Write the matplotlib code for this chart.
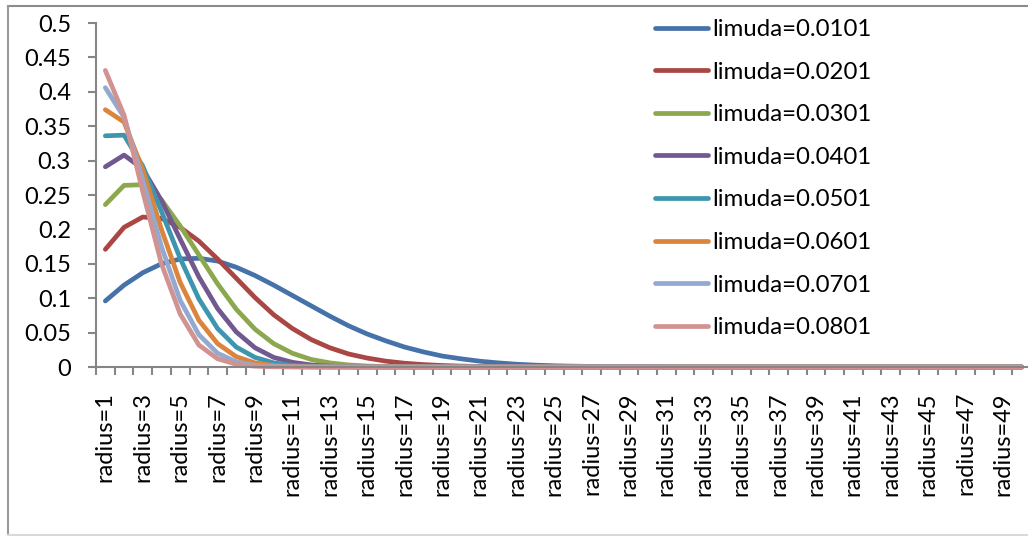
import numpy as np
import matplotlib
matplotlib.use("Agg")
import matplotlib.pyplot as plt
from matplotlib.lines import Line2D

plt.rcParams['font.family'] = ['Lato', 'DejaVu Sans']

# ---------------- data ----------------
categories = ["radius=%d" % r for r in range(1, 51)]

series_names = ["limuda=0.0101", "limuda=0.0201", "limuda=0.0301", "limuda=0.0401",
                "limuda=0.0501", "limuda=0.0601", "limuda=0.0701", "limuda=0.0801"]

limuda_0101 = [0.096, 0.119, 0.137, 0.150, 0.157, 0.158, 0.154, 0.145, 0.133, 0.119,
               0.104, 0.089, 0.074, 0.060, 0.048, 0.038, 0.029, 0.022, 0.016, 0.012,
               0.0085, 0.006, 0.004, 0.0027, 0.0018, 0.0012, 0.0008, 0.0005, 0.0003, 0.0002,
               0.0001, 0, 0, 0, 0, 0, 0, 0, 0, 0,
               0, 0, 0, 0, 0, 0, 0, 0, 0, 0]
limuda_0201 = [0.171, 0.203, 0.218, 0.216, 0.203, 0.183, 0.157, 0.129, 0.101, 0.076,
               0.056, 0.040, 0.028, 0.019, 0.013, 0.0085, 0.0055, 0.0035, 0.0022, 0.0013,
               0.0008, 0.0005, 0.0003, 0.0002, 0.0001, 0, 0, 0, 0, 0,
               0, 0, 0, 0, 0, 0, 0, 0, 0, 0,
               0, 0, 0, 0, 0, 0, 0, 0, 0, 0]
limuda_0301 = [0.236, 0.264, 0.265, 0.243, 0.205, 0.163, 0.121, 0.084, 0.055, 0.034,
               0.020, 0.011, 0.006, 0.003, 0.0014, 0.0006, 0.0002, 0.0001, 0, 0,
               0, 0, 0, 0, 0, 0, 0, 0, 0, 0,
               0, 0, 0, 0, 0, 0, 0, 0, 0, 0,
               0, 0, 0, 0, 0, 0, 0, 0, 0, 0]
limuda_0401 = [0.291, 0.308, 0.288, 0.242, 0.186, 0.131, 0.085, 0.051, 0.028, 0.014,
               0.0068, 0.003, 0.0012, 0.0005, 0.0002, 0.0001, 0, 0, 0, 0,
               0, 0, 0, 0, 0, 0, 0, 0, 0, 0,
               0, 0, 0, 0, 0, 0, 0, 0, 0, 0,
               0, 0, 0, 0, 0, 0, 0, 0, 0, 0]
limuda_0501 = [0.336, 0.337, 0.292, 0.226, 0.158, 0.099, 0.056, 0.029, 0.014, 0.006,
               0.0025, 0.0009, 0.0003, 0.0001, 0, 0, 0, 0, 0, 0,
               0, 0, 0, 0, 0, 0, 0, 0, 0, 0,
               0, 0, 0, 0, 0, 0, 0, 0, 0, 0,
               0, 0, 0, 0, 0, 0, 0, 0, 0, 0]
limuda_0601 = [0.374, 0.356, 0.287, 0.200, 0.123, 0.068, 0.034, 0.015, 0.006, 0.0022,
               0.0007, 0.0002, 0, 0, 0, 0, 0, 0, 0, 0,
               0, 0, 0, 0, 0, 0, 0, 0, 0, 0,
               0, 0, 0, 0, 0, 0, 0, 0, 0, 0,
               0, 0, 0, 0, 0, 0, 0, 0, 0, 0]
limuda_0701 = [0.406, 0.363, 0.272, 0.175, 0.097, 0.047, 0.020, 0.0075, 0.0025, 0.0008,
               0.0002, 0, 0, 0, 0, 0, 0, 0, 0, 0,
               0, 0, 0, 0, 0, 0, 0, 0, 0, 0,
               0, 0, 0, 0, 0, 0, 0, 0, 0, 0,
               0, 0, 0, 0, 0, 0, 0, 0, 0, 0]
limuda_0801 = [0.431, 0.366, 0.255, 0.150, 0.077, 0.032, 0.012, 0.004, 0.0012, 0.0003,
               0.0001, 0, 0, 0, 0, 0, 0, 0, 0, 0,
               0, 0, 0, 0, 0, 0, 0, 0, 0, 0,
               0, 0, 0, 0, 0, 0, 0, 0, 0, 0,
               0, 0, 0, 0, 0, 0, 0, 0, 0, 0]

y_ticks = [0, 0.05, 0.1, 0.15, 0.2, 0.25, 0.3, 0.35, 0.4, 0.45, 0.5]
y_tick_labels = ["0", "0.05", "0.1", "0.15", "0.2", "0.25", "0.3", "0.35", "0.4", "0.45", "0.5"]

all_series = [limuda_0101, limuda_0201, limuda_0301, limuda_0401,
              limuda_0501, limuda_0601, limuda_0701, limuda_0801]
colors = ["#4672AA", "#AA4643", "#8BA84E", "#71588F",
          "#3D96AE", "#DB843D", "#93A9CF", "#D19392"]

# ---------------- figure ----------------
W, H = 1028, 536
fig = plt.figure(figsize=(W / 100, H / 100), dpi=100)
fig.patch.set_facecolor("white")

# chart border
border_kw = dict(transform=fig.transFigure, lw=1.5)
fig.add_artist(Line2D([8 / W, 1.0], [1 - 5.5 / H, 1 - 5.5 / H], color="#8C8C8C", **border_kw))
fig.add_artist(Line2D([8 / W, 8 / W], [1 - 5.5 / H, 1 - 534.5 / H], color="#9A9A9A", **border_kw))
fig.add_artist(Line2D([8 / W, 1.0], [1 - 534.5 / H, 1 - 534.5 / H], color="#D9D9D9", **border_kw))

ax = fig.add_axes([96 / W, (H - 367) / H, 935 / W, 344 / H])
x = np.arange(1, len(categories) + 1)

handles = []
for name, vals, c in zip(series_names, all_series, colors):
    ln, = ax.plot(x, vals, color=c, lw=3.4, solid_joinstyle="round",
                  solid_capstyle="round", label=name, clip_on=False)
    handles.append(ln)

ax.set_xlim(0.5, len(categories) + 0.5)
ax.set_ylim(0, 0.5)

for s in ["top", "right"]:
    ax.spines[s].set_visible(False)
for s in ["left", "bottom"]:
    ax.spines[s].set_color("#868686")
    ax.spines[s].set_linewidth(1.5)

ax.set_yticks(y_ticks)
ax.set_yticklabels(y_tick_labels)
ax.tick_params(axis="y", length=6, width=1.5, color="#868686", pad=12,
               labelsize=17, labelcolor="black")

ax.set_xticks(np.arange(0.5, len(categories) + 1, 1.0))
ax.set_xticklabels([])
ax.tick_params(axis="x", which="major", length=5.5, width=1.5, color="#868686")
ax.set_xticks(x[::2], minor=True)
ax.set_xticklabels(categories[::2], minor=True, rotation=90)
ax.tick_params(axis="x", which="minor", length=0, pad=18, labelsize=17, labelcolor="black")

fig.legend(handles=handles, loc="upper left",
           bbox_to_anchor=(655 / W, 1 - 19 / H), bbox_transform=fig.transFigure,
           frameon=False, fontsize=17.3, handlelength=2.2, handletextpad=0.2,
           labelspacing=0.9, borderpad=0, borderaxespad=0)

fig.savefig("out.png", dpi=100, facecolor="white")
